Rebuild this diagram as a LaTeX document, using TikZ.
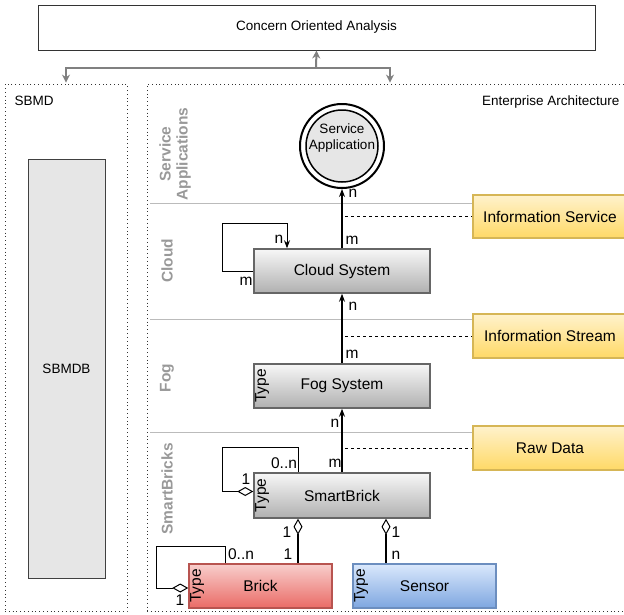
\documentclass[tikz,border=0pt]{standalone}
\usepackage{fontspec}
\setmainfont{Liberation Sans}
\usetikzlibrary{arrows.meta}
\definecolor{gtop}{HTML}{F7F7F7}
\definecolor{gbot}{HTML}{B0B0B0}
\definecolor{gedge}{HTML}{666666}
\definecolor{rtop}{HTML}{F8CECC}
\definecolor{rbot}{HTML}{EA6B66}
\definecolor{redge}{HTML}{B85450}
\definecolor{btop}{HTML}{DAE8FC}
\definecolor{bbot}{HTML}{7EA6E0}
\definecolor{bedge}{HTML}{6C8EBF}
\definecolor{ytop}{HTML}{FFF2CC}
\definecolor{ybot}{HTML}{FFD966}
\definecolor{yedge}{HTML}{D6B656}
\definecolor{lanegray}{HTML}{999999}
\definecolor{sepgray}{HTML}{BBBBBB}
\definecolor{arrgray}{HTML}{808080}
\definecolor{dbfill}{HTML}{E6E6E6}
\begin{document}
\begin{tikzpicture}[x=1pt,y=-1pt,
  f13/.style={font=\fontsize{13.5}{15.5}\selectfont},
  f15/.style={font=\fontsize{15.5}{17}\selectfont},
  lane/.style={font=\fontsize{15.5}{17}\selectfont\bfseries, text=lanegray, rotate=90, align=center, inner sep=0},
  boxbase/.style={line width=1.5pt, minimum height=44pt, f15, inner sep=0},
  gbox/.style={boxbase, draw=gedge, top color=gtop, bottom color=gbot, minimum width=176pt},
  rbox/.style={boxbase, draw=redge, top color=rtop, bottom color=rbot, minimum width=143pt},
  bbox/.style={boxbase, draw=bedge, top color=btop, bottom color=bbot, minimum width=143pt},
  ybox/.style={boxbase, draw=yedge, top color=ytop, bottom color=ybot, minimum width=154pt},
  typel/.style={f15, rotate=90, inner sep=0},
  dotbox/.style={draw=black!80, line width=0.8pt, dash pattern=on 0.8pt off 3pt},
  garrow/.style={draw=arrgray, line width=2pt, -{Stealth[length=8pt,width=8pt]}},
  conn/.style={draw=black, line width=1pt},
  ahead/.style={-{Stealth[length=8pt,width=6pt]}},
  dtip/.style={-{Diamond[fill=white,length=16pt,width=9pt,line width=1pt]}},
  dtail/.style={{Diamond[fill=white,length=16pt,width=9pt,line width=1pt]}-},
  dashl/.style={draw=black, line width=1pt, dashed},
  sepl/.style={draw=sepgray, line width=1pt},
  lbl/.style={f15, inner sep=0}
]
\useasboundingbox (0,0) rectangle (624,614);
\clip (0,0) rectangle (624,614);

% top box
\node[draw=black!80, line width=1pt, minimum width=557pt, minimum height=45pt, f13] (coa) at (316.5,27.5) {Concern Oriented Analysis};

% dotted containers
\node[dotbox, minimum width=122pt, minimum height=527pt] (sbmd) at (66,347.5) {};
\node[dotbox, minimum width=486pt, minimum height=527pt] (ea) at (390,347.5) {};
\node[anchor=west, f13] (sbmdlbl) at (11,101) {SBMD};
\node[anchor=east, f13] (ealbl) at (623,102) {Enterprise Architecture};

% gray arrows
\coordinate (j) at (316,68);
\draw[garrow] (j) -- (coa.south);
\draw[garrow, shorten >=1pt] (j) -| (sbmd.north);
\draw[garrow, shorten >=1pt] (j) -| (ea.north);

% SBMDB
\node[draw=black!75, line width=1pt, fill=dbfill, minimum width=77pt, minimum height=419pt, f13] (sbmdb) at (66.5,368.5) {SBMDB};

% lane separators
\draw[sepl] (150,203) -- (473,203);
\draw[sepl] (150,319.5) -- (473,319.5);
\draw[sepl] (150,432) -- (473,432);

% lane labels
\node[lane] (lsa) at (175,154) {Service\\Applications};
\node[lane] (lcl) at (167,261) {Cloud};
\node[lane] (lfo) at (167,378) {Fog};
\node[lane] (lsb) at (167,489) {SmartBricks};

% service application
\node[circle, draw=black, line width=2pt, minimum size=84pt, inner sep=0] (app) at (342,146) {};
\node[circle, draw=black, line width=1.5pt, fill=dbfill, minimum size=72pt, inner sep=0] (appin) at (app) {};
\node[f13, align=center, inner sep=0] (apptxt) at (342,138) {Service\\Application};

% systems
\node[gbox] (cloud) at (342,271) {Cloud System};
\node[gbox] (fog) at (342,386) {Fog System};
\node[gbox, minimum height=45pt] (sb) at (342,495.5) {SmartBrick};
\node[rbox] (brick) at (260.5,586) {Brick};
\node[bbox] (sensor) at (424.5,586) {Sensor};

\node[typel] (tfog) at ([xshift=9pt]fog.west) {Type};
\node[typel] (tsb) at ([xshift=9pt]sb.west) {Type};
\node[typel] (tbrick) at ([xshift=9pt]brick.west) {Type};
\node[typel] (tsensor) at ([xshift=9pt]sensor.west) {Type};

% yellow data boxes
\node[ybox, minimum height=43pt] (infoS) at (550,216.5) {Information Service};
\node[ybox] (infoT) at (550,336) {Information Stream};
\node[ybox] (raw) at (550,448) {Raw Data};

% dashed links
\draw[dashl] ([xshift=3pt]cloud.north |- infoS.west) -- (infoS.west);
\draw[dashl] ([xshift=3pt]fog.north |- infoT.west) -- (infoT.west);
\draw[dashl] ([xshift=3pt]sb.north |- raw.west) -- (raw.west);

% vertical arrows
\draw[conn, line width=1.2pt, ahead] (cloud.north) -- (app.south);
\draw[conn, line width=1.2pt, ahead] (fog.north) -- (cloud.south);
\draw[conn, line width=1.2pt, ahead] (sb.north) -- (fog.south);

% cloud self loop
\coordinate (cl1) at (222,223);
\draw[conn, ahead] (cloud.west) -| (cl1) -| ([xshift=-55pt]cloud.north);

% smartbrick self loop
\coordinate (sl1) at (222,447);
\draw[conn, dtip] ([xshift=-44pt]sb.north) |- (sl1) |- ([yshift=4pt]sb.west);

% brick self loop
\coordinate (bl1) at (156,546);
\draw[conn, dtip] ([xshift=-35.5pt]brick.north) |- (bl1) |- ([yshift=-2pt]brick.west);

% aggregation to smartbrick
\draw[conn, line width=1.2pt, dtail] ([xshift=-44pt]sb.south) -- ([xshift=-44pt]sb.south |- brick.north);
\draw[conn, line width=1.2pt, dtail] ([xshift=44pt]sb.south) -- ([xshift=44pt]sb.south |- sensor.north);

% multiplicity labels
\node[lbl] (m1) at (353,193) {n};
\node[lbl] (m2) at (352,240) {m};
\node[lbl] (m3) at (279,239) {n};
\node[lbl] (m4) at (246,281) {m};
\node[lbl] (m5) at (353,306) {n};
\node[lbl] (m6) at (352,354) {m};
\node[lbl] (m7) at (335,423) {n};
\node[lbl] (m8) at (335,463) {m};
\node[lbl] (m9) at (284,463) {0..n};
\node[lbl] (m10) at (246,479) {1};
\node[lbl] (m11) at (287,532) {1};
\node[lbl] (m12) at (288,554) {1};
\node[lbl] (m13) at (396,532) {1};
\node[lbl] (m14) at (396,555) {n};
\node[lbl] (m15) at (241,554) {0..n};
\node[lbl] (m16) at (180,600) {1};
\end{tikzpicture}
\end{document}
